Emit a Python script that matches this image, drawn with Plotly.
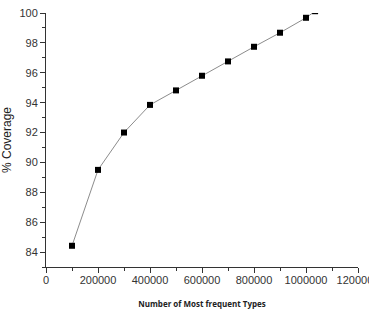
import plotly.graph_objects as go

types_count = [100000, 200000, 300000, 400000, 500000, 600000, 700000, 800000, 900000, 1000000, 1035000]
coverage = [84.42, 89.5, 92.0, 93.85, 94.82, 95.8, 96.76, 97.74, 98.68, 99.68, 100.12]

x_ticks = [0, 200000, 400000, 600000, 800000, 1000000, 1200000]
y_ticks = [84, 86, 88, 90, 92, 94, 96, 98, 100]

fig = go.Figure()
fig.add_trace(go.Scatter(
    x=types_count, y=coverage, mode="lines+markers",
    line=dict(color="#8c8c8c", width=1),
    marker=dict(symbol="square", size=6, color="black"),
    cliponaxis=True, showlegend=False,
))

axis_font = dict(family="Liberation Sans, Arial", size=11, color="#333333")
fig.update_layout(
    width=369, height=316,
    margin=dict(l=46, r=11, t=13, b=49),
    plot_bgcolor="white", paper_bgcolor="white",
    xaxis=dict(
        range=[0, 1200000], tickvals=x_ticks, ticktext=[str(v) for v in x_ticks],
        automargin=False, ticklabeloverflow="allow", ticklabelstandoff=-2,
        showgrid=False, zeroline=False, showline=True, linecolor="#333333", linewidth=1,
        ticks="outside", ticklen=5, tickcolor="#333333", tickfont=axis_font,
        minor=dict(dtick=100000, tick0=0, ticks="outside", ticklen=3, tickcolor="#333333", showgrid=False),
        title=dict(text="<b>Number of Most frequent Types</b>",
                   font=dict(family="Open Sans, Liberation Sans", size=8, color="#222222"),
                   standoff=16),
    ),
    yaxis=dict(
        range=[83, 100], tickvals=y_ticks, ticktext=[str(v) for v in y_ticks],
        automargin=False,
        showgrid=False, zeroline=False, showline=True, linecolor="#333333", linewidth=1,
        ticks="outside", ticklen=5, tickcolor="#333333", tickfont=axis_font,
        minor=dict(dtick=1, tick0=83, ticks="outside", ticklen=3, tickcolor="#333333", showgrid=False),
        title=dict(text="% Coverage", font=dict(family="Liberation Sans, Arial", size=12, color="#222222"),
                   standoff=6),
    ),
)
fig.write_html("out.html")
